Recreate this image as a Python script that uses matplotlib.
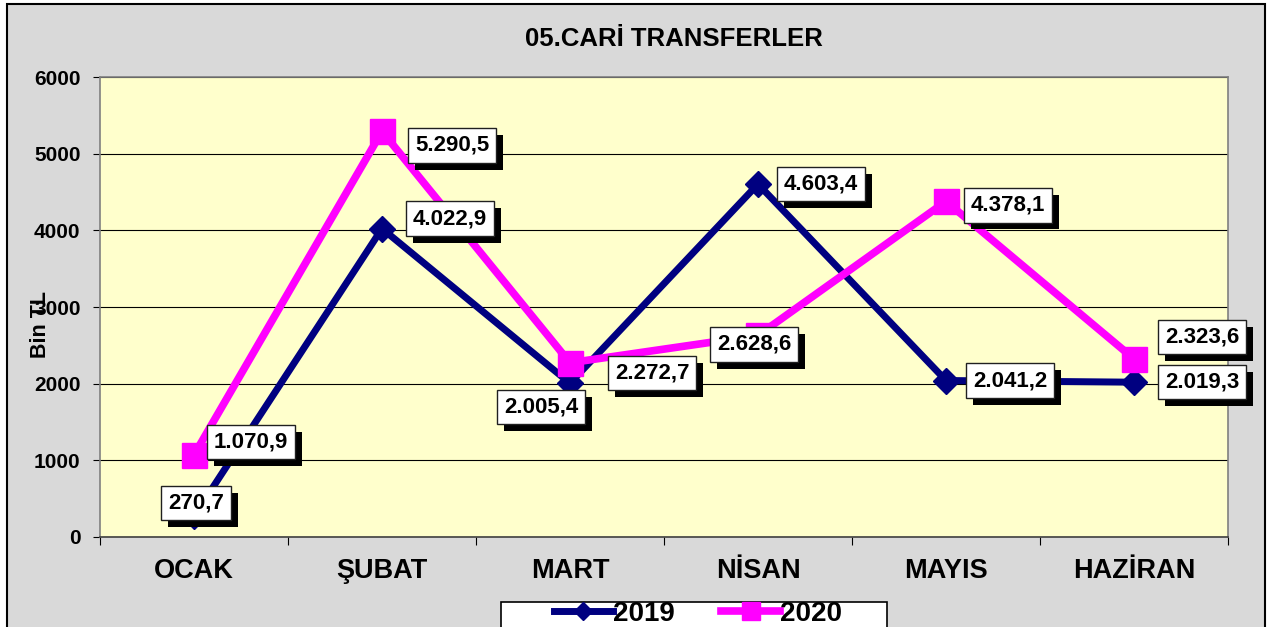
import matplotlib.pyplot as plt
import matplotlib.patheffects as pe
from matplotlib.patches import Rectangle

months = ["OCAK", "ŞUBAT", "MART", "NİSAN", "MAYIS", "HAZİRAN"]
vals_2019 = [270.7, 4022.9, 2005.4, 4603.4, 2041.2, 2019.3]
vals_2020 = [1070.9, 5290.5, 2272.7, 2628.6, 4378.1, 2323.6]
labels_2019 = ["270,7", "4.022,9", "2.005,4", "4.603,4", "2.041,2", "2.019,3"]
labels_2020 = ["1.070,9", "5.290,5", "2.272,7", "2.628,6", "4.378,1", "2.323,6"]
y_ticks = [0, 1000, 2000, 3000, 4000, 5000, 6000]

# label box offsets from the point, in pixels
offsets_2019 = [(2, 13), (68, 10), (-29, -24), (63, 0), (64, 0), (68, 0)]
offsets_2020 = [(57, 13), (70, -14), (82, -10), (-4, -9), (62, -4), (68, 22)]

NAVY = "#000080"
MAGENTA = "#FF00FF"

plt.rcParams["font.family"] = ["Liberation Sans", "DejaVu Sans"]

W, H = 1272, 627
fig = plt.figure(figsize=(W / 100, H / 100), dpi=100, facecolor="white")

# grey chart area with black frame
fig.patches.append(
    Rectangle((7 / W, -0.1), (1265 - 7) / W, 1.1 - 4 / H, transform=fig.transFigure,
              facecolor="#D9D9D9", edgecolor="black", linewidth=1.5, zorder=-10)
)

ax = fig.add_axes([100 / W, 1 - 537 / H, (1228 - 100) / W, 460 / H])
ax.set_facecolor("#FFFFCC")
x = list(range(len(months)))

ax.plot(x, vals_2019, color=NAVY, linewidth=5, marker="D", markersize=13, zorder=3, label="2019")
ax.plot(x, vals_2020, color=MAGENTA, linewidth=5.5, marker="s", markersize=18, zorder=4, label="2020")

ax.set_xlim(-0.5, 5.5)
ax.set_ylim(0, 6000)
ax.set_yticks(y_ticks)
ax.set_yticklabels([str(v) for v in y_ticks], fontsize=15, fontweight="bold")
ax.set_xticks([i + 0.5 for i in range(-1, 6)])
ax.set_xticklabels([])
ax.set_xticks(x, minor=True)
ax.set_xticklabels(months, minor=True, fontsize=19.5, fontweight="bold")
ax.tick_params(axis="x", which="minor", length=0, pad=15)
ax.tick_params(axis="x", which="major", length=6, color="black")
ax.tick_params(axis="y", length=5, pad=9)
ax.yaxis.grid(True, color="black", linewidth=0.8)
ax.set_axisbelow(True)
for side, sp in ax.spines.items():
    sp.set_color("#808080")
    sp.set_linewidth(1.2)
ax.spines["bottom"].set_color("#404040")

shadow = [pe.SimplePatchShadow(offset=(5, -5), shadow_rgbFace="black", alpha=1), pe.Normal()]


def add_labels(values, texts, offsets):
    for xi, v, t, off in zip(x, values, texts, offsets):
        ann = ax.annotate(t, (xi, v), xytext=off, textcoords="offset pixels",
                          ha="center", va="center", fontsize=16, fontweight="bold", zorder=6,
                          bbox=dict(boxstyle="square,pad=0.3", facecolor="white",
                                    edgecolor="#202020", linewidth=1))
        ann.get_bbox_patch().set_path_effects(shadow)


add_labels(vals_2019, labels_2019, offsets_2019)
add_labels(vals_2020, labels_2020, offsets_2020)

fig.text(674 / W, 1 - 39 / H, "05.CARİ TRANSFERLER", ha="center", va="center",
         fontsize=18.5, fontweight="bold")
fig.text(40 / W, 1 - 324 / H, "Bin TL", rotation=90, ha="center", va="center",
         fontsize=15.5, fontweight="bold")

# legend box running off the bottom edge
fig.patches.append(
    Rectangle((501 / W, -0.1), (887 - 501) / W, 0.1 + 1 - 602 / H, transform=fig.transFigure,
              facecolor="white", edgecolor="black", linewidth=1.2, zorder=-5)
)
fig.legend(loc="center", bbox_to_anchor=(698 / W, 1 - 614 / H), ncol=2, frameon=False,
           handlelength=2.1, markerscale=0.7, columnspacing=1.7,
           handletextpad=0.0, prop={"weight": "bold", "size": 20})

fig.savefig("out.png", dpi=100)
